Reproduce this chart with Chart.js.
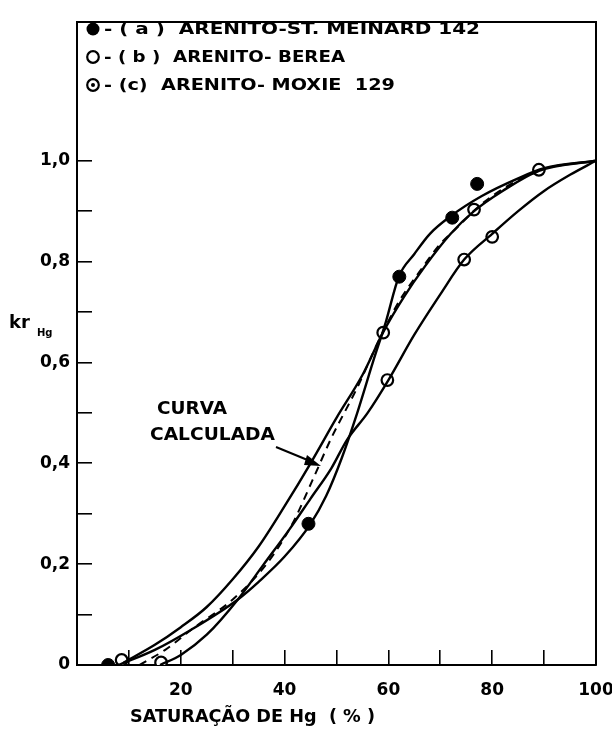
<!DOCTYPE html>
<html><head><meta charset="utf-8">
<script src="https://cdn.jsdelivr.net/npm/chart.js@4.4.1/dist/chart.umd.min.js"></script>
<style>html,body{margin:0;padding:0;background:#fff;}#wrap{width:612px;height:732px;}</style>
</head><body><div id="wrap"><canvas id="c" width="612" height="732"></canvas></div>
<script>
// ---- tick values / labels ----
const xTickValues = [0,10,20,30,40,50,60,70,80,90,100];
const xTickLabels = ['','','20','','40','','60','','80','','100'];
const yTickValues = [0,0.1,0.2,0.3,0.4,0.5,0.6,0.7,0.8,0.9,1.0];
const yTickLabels = ['0','','0,2','','0,4','','0,6','','0,8','','1,0'];

// ---- measured points ----
const stMeinardX = [6.0, 44.6, 62.1, 72.3, 77.1];
const stMeinardY = [0.0, 0.28, 0.77, 0.887, 0.954];
const bereaX = [8.6, 59.0, 76.5, 89.0];
const bereaY = [0.01, 0.659, 0.903, 0.982];
const moxieX = [16.2, 59.8, 74.6, 80.0];
const moxieY = [0.005, 0.565, 0.804, 0.849];

// ---- drawn curves ----
const curveAX = [8, 15, 22, 31, 35, 40, 45, 48, 51, 54, 57, 59.5, 62, 65, 68, 72, 78, 85, 90, 100];
const curveAY = [0, 0.03, 0.07, 0.13, 0.165, 0.215, 0.28, 0.335, 0.41, 0.5, 0.6, 0.68, 0.77, 0.815, 0.855, 0.89, 0.93, 0.965, 0.985, 1.0];
const curveBX = [9, 15, 20, 25, 30, 35, 40, 45, 50, 55, 59, 63, 67, 72, 76.5, 82, 89, 100];
const curveBY = [0.005, 0.04, 0.075, 0.115, 0.17, 0.235, 0.315, 0.4, 0.49, 0.575, 0.66, 0.73, 0.79, 0.855, 0.9, 0.94, 0.98, 1.0];
const curveCX = [16, 20, 25, 31, 36, 41, 45, 49, 52, 56, 60, 65, 70, 74.6, 80, 85, 90, 95, 100];
const curveCY = [0.0, 0.02, 0.06, 0.13, 0.2, 0.27, 0.33, 0.39, 0.446, 0.5, 0.565, 0.655, 0.735, 0.804, 0.855, 0.9, 0.94, 0.972, 1.0];
const calcX = [12, 17, 22, 30, 36.5, 41.5, 45.4, 49, 54, 58, 62, 66, 70, 73, 77.5, 83, 89];
const calcY = [0, 0.03, 0.07, 0.13, 0.2, 0.28, 0.367, 0.45, 0.55, 0.64, 0.72, 0.78, 0.835, 0.865, 0.91, 0.95, 0.98];

const legendTexts = ['- ( a )  ARENITO-ST. MEINARD 142', '- ( b )  ARENITO- BEREA', '- (c)  ARENITO- MOXIE  129'];

const zip = (xs, ys) => xs.map((x, i) => ({x, y: ys[i]}));
const curveStyle = {showLine: true, pointRadius: 0, borderColor: '#000', borderWidth: 2.4, cubicInterpolationMode: 'monotone', fill: false};
const F = '"DejaVu Sans", "Liberation Sans", sans-serif';

function marker(ctx, kind, x, y) {
  ctx.save();
  ctx.strokeStyle = '#000'; ctx.fillStyle = '#000'; ctx.lineWidth = 2.2;
  ctx.beginPath(); ctx.arc(x, y, kind === 'filled' ? 6.5 : 5.8, 0, Math.PI * 2);
  if (kind === 'filled') ctx.fill(); else { ctx.fillStyle = '#fff'; ctx.fill(); ctx.stroke(); }
  if (kind === 'dot') { ctx.fillStyle = '#000'; ctx.beginPath(); ctx.arc(x, y, 2, 0, Math.PI * 2); ctx.fill(); }
  ctx.restore();
}
// draw text stretched horizontally to a given width
function fitText(ctx, text, x, y, w) {
  const m = ctx.measureText(text).width;
  ctx.save(); ctx.translate(x, y); ctx.scale(w / m, 1); ctx.fillText(text, 0, 0); ctx.restore();
}

const decor = {
  id: 'decor',
  afterDraw(chart) {
    const ctx = chart.ctx, a = chart.chartArea;
    ctx.save();
    ctx.strokeStyle = '#000'; ctx.lineWidth = 2;
    ctx.beginPath(); ctx.moveTo(a.left, a.top); ctx.lineTo(a.right, a.top); ctx.lineTo(a.right, a.bottom); ctx.stroke();
    // legend
    const kinds = ['filled', 'open', 'dot'];
    const rows = [29, 57, 85];
    const widths = [376, 241, 291];
    ctx.fillStyle = '#000'; ctx.textBaseline = 'middle'; ctx.textAlign = 'left';
    ctx.font = 'bold 16px ' + F;
    rows.forEach((ry, i) => {
      marker(ctx, kinds[i], 93, ry);
      fitText(ctx, legendTexts[i], 104, ry + 1, widths[i]);
    });
    // y label
    ctx.font = 'bold 18px ' + F;
    ctx.fillText('kr', 9, 323);
    ctx.font = 'bold 10px ' + F;
    ctx.fillText('Hg', 37, 333);
    // annotation
    ctx.font = 'bold 17px ' + F;
    fitText(ctx, 'CURVA', 157, 410, 70);
    fitText(ctx, 'CALCULADA', 150, 436, 125);
    ctx.lineWidth = 2;
    ctx.beginPath(); ctx.moveTo(276, 447); ctx.lineTo(310, 461); ctx.stroke();
    ctx.beginPath(); ctx.moveTo(321, 466); ctx.lineTo(307, 455); ctx.lineTo(304, 465); ctx.closePath(); ctx.fill();
    // x title
    ctx.font = 'bold 17px ' + F;
    fitText(ctx, 'SATURAÇÃO DE Hg  ( % )', 130, 718, 245);
    ctx.restore();
  }
};

new Chart(document.getElementById('c'), {
  type: 'scatter',
  data: {
    datasets: [
      Object.assign({label: 'A', data: zip(curveAX, curveAY)}, curveStyle),
      Object.assign({label: 'B', data: zip(curveBX, curveBY)}, curveStyle),
      Object.assign({label: 'C', data: zip(curveCX, curveCY)}, curveStyle),
      Object.assign({label: 'Curva calculada', data: zip(calcX, calcY)}, curveStyle, {borderDash: [8, 6], borderWidth: 2}),
      {label: '(a) ARENITO-ST. MEINARD 142', data: zip(stMeinardX, stMeinardY), pointRadius: 6.5, pointBackgroundColor: '#000', pointBorderColor: '#000', pointBorderWidth: 1},
      {label: '(b) ARENITO- BEREA', data: zip(bereaX, bereaY), pointRadius: 5.8, pointBackgroundColor: '#fff', pointBorderColor: '#000', pointBorderWidth: 2.2},
      {label: '(c) ARENITO- MOXIE 129', data: zip(moxieX, moxieY), pointRadius: 5.8, pointBackgroundColor: '#fff', pointBorderColor: '#000', pointBorderWidth: 2.2},
      {label: 'c-dot', data: zip(moxieX, moxieY), pointRadius: 2, pointBackgroundColor: '#000', pointBorderColor: '#000', pointBorderWidth: 0}
    ]
  },
  options: {
    responsive: false, animation: false, devicePixelRatio: 1,
    layout: {padding: {left: 0, right: 16, top: 22, bottom: 0}},
    plugins: {legend: {display: false}, tooltip: {enabled: false}},
    scales: {
      x: {
        type: 'linear', min: 0, max: 100,
        afterBuildTicks: s => { s.ticks = xTickValues.map(v => ({value: v})); },
        afterFit: s => { s.height = 67; s.paddingLeft = 0; s.paddingRight = 0; },
        grid: {drawOnChartArea: false, drawTicks: true, tickLength: -15, color: '#000', lineWidth: 1.6},
        border: {display: true, color: '#000', width: 2},
        ticks: {callback: (v, i) => xTickLabels[i], color: '#000', font: {family: F, size: 17, weight: 'bold'}, padding: 30, maxRotation: 0, autoSkip: false}
      },
      y: {
        type: 'linear', min: 0, max: 1.275,
        afterBuildTicks: s => { s.ticks = yTickValues.map(v => ({value: v})); },
        afterFit: s => { s.width = 77; s.paddingTop = 0; s.paddingBottom = 0; },
        grid: {drawOnChartArea: false, drawTicks: true, tickLength: -15, color: '#000', lineWidth: 1.6},
        border: {display: true, color: '#000', width: 2},
        ticks: {callback: (v, i) => yTickLabels[i], color: '#000', font: {family: F, size: 17, weight: 'bold'}, padding: 22, autoSkip: false}
      }
    }
  },
  plugins: [decor]
});
</script></body></html>
